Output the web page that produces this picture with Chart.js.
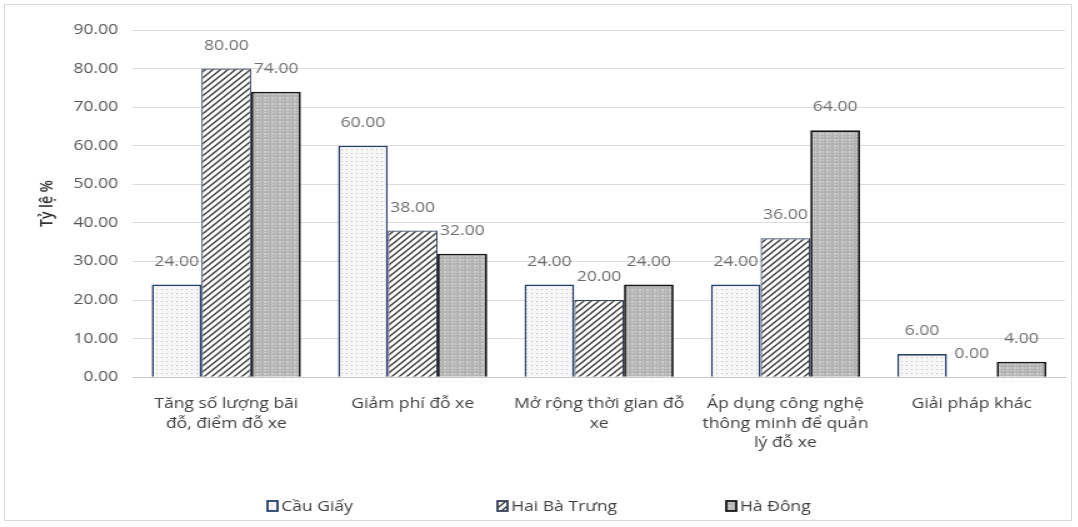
<!DOCTYPE html>
<html>
<head>
<meta charset="utf-8">
<script src="https://cdn.jsdelivr.net/npm/chart.js@4.4.1/dist/chart.umd.min.js"></script>
<style>
  html, body { margin: 0; padding: 0; background: #fff; overflow: hidden; }
  #frame { position: absolute; left: 4px; top: 4px; width: 1068px; height: 517px; border: 1px solid #d9d9d9; box-sizing: border-box; }
  #stage { position: absolute; left: 0; top: 0; width: 862px; height: 527px; transform: scaleX(1.25); transform-origin: 0 0; }
  #c { display: block; }
</style>
</head>
<body>
<div id="frame"></div>
<div id="stage"><canvas id="c" width="862" height="527"></canvas></div>
<script>
// Giải pháp cho bãi đỗ xe – tỷ lệ ý kiến theo quận
const categories = [
  ["Tăng số lượng bãi", "đỗ, điểm đỗ xe"],
  "Giảm phí đỗ xe",
  ["Mở rộng thời gian đỗ", "xe"],
  ["Áp dụng công nghệ", "thông minh để quản", "lý đỗ xe"],
  "Giải pháp khác"
];
const seriesNames = ["Cầu Giấy", "Hai Bà Trưng", "Hà Đông"];
const cauGiay = [24, 60, 24, 24, 6];
const haiBaTrung = [80, 38, 20, 36, 0];
const haDong = [74, 32, 24, 64, 4];
const yTicks = [0, 10, 20, 30, 40, 50, 60, 70, 80, 90];

// Fill patterns for the three series
function makePattern(kind) {
  const p = document.createElement('canvas');
  const ctx = p.getContext('2d');
  if (kind === 'dots') {
    p.width = 4; p.height = 4;
    ctx.fillStyle = '#f6f6f6'; ctx.fillRect(0, 0, 4, 4);
    ctx.fillStyle = '#bdbdbd';
    ctx.fillRect(1, 1, 1, 1);
  } else if (kind === 'stripes') {
    p.width = 6; p.height = 6;
    ctx.fillStyle = '#ffffff'; ctx.fillRect(0, 0, 6, 6);
    ctx.strokeStyle = '#333333'; ctx.lineWidth = 1.3;
    ctx.beginPath();
    ctx.moveTo(-1, 7); ctx.lineTo(7, -1);
    ctx.moveTo(-1, 1); ctx.lineTo(1, -1);
    ctx.moveTo(5, 7); ctx.lineTo(7, 5);
    ctx.stroke();
  } else {
    p.width = 6; p.height = 6;
    ctx.fillStyle = '#b3b3b3'; ctx.fillRect(0, 0, 6, 6);
    ctx.fillStyle = '#cfcfcf';
    ctx.fillRect(1, 1, 2, 2); ctx.fillRect(4, 4, 1, 1);
    ctx.fillRect(4, 1, 1, 2); ctx.fillRect(1, 4, 2, 1);
  }
  return document.getElementById('c').getContext('2d').createPattern(p, 'repeat');
}

const fills = [makePattern('dots'), makePattern('stripes'), makePattern('grid')];
const borders = ['#24406f', '#34405a', '#161616'];
const borderWidths = [1.6, 1.2, 1.8];
const FONT = "'Open Sans', 'DejaVu Sans', sans-serif";

// Value labels above each bar
const valueLabels = {
  id: 'valueLabels',
  afterDatasetsDraw(chart) {
    const ctx = chart.ctx;
    ctx.save();
    ctx.font = '14px ' + FONT;
    ctx.fillStyle = '#6e6e6e';
    ctx.textAlign = 'center';
    ctx.textBaseline = 'middle';
    chart.data.datasets.forEach((ds, i) => {
      chart.getDatasetMeta(i).data.forEach((bar, j) => {
        ctx.fillText(ds.data[j].toFixed(2), bar.x, bar.y - 23);
      });
    });
    ctx.restore();
  }
};

// Legend row along the bottom
const bottomLegend = {
  id: 'bottomLegend',
  afterDraw(chart) {
    const ctx = chart.ctx;
    const xs = [214, 398, 581];
    const y = 506;
    ctx.save();
    ctx.font = '14px ' + FONT;
    ctx.textBaseline = 'middle';
    chart.data.datasets.forEach((ds, i) => {
      const x = xs[i];
      ctx.fillStyle = ds.backgroundColor;
      ctx.fillRect(x, y - 5, 8, 10);
      ctx.strokeStyle = ds.borderColor;
      ctx.lineWidth = 1.8;
      ctx.strokeRect(x, y - 5, 8, 10);
      ctx.fillStyle = '#404040';
      ctx.fillText(ds.label, x + 11, y + 1);
    });
    ctx.restore();
  }
};

new Chart(document.getElementById('c'), {
  type: 'bar',
  data: {
    labels: categories,
    datasets: [cauGiay, haiBaTrung, haDong].map((d, i) => ({
      label: seriesNames[i],
      data: d,
      backgroundColor: fills[i],
      borderColor: borders[i],
      borderWidth: borderWidths[i],
      borderSkipped: 'bottom',
      categoryPercentage: 0.8,
      barPercentage: 1.0
    }))
  },
  options: {
    responsive: false,
    animation: false,
    devicePixelRatio: 1,
    layout: { padding: { left: 28, right: 10, top: 30, bottom: 65 } },
    plugins: { legend: { display: false }, tooltip: { enabled: false } },
    scales: {
      x: {
        grid: { display: false },
        border: { color: '#c8c8c8', width: 1 },
        ticks: { color: '#404040', font: { family: FONT, size: 14, lineHeight: 1.4 }, maxRotation: 0, autoSkip: false, padding: 9 }
      },
      y: {
        min: yTicks[0],
        max: yTicks[yTicks.length - 1],
        afterBuildTicks(scale) { scale.ticks = yTicks.map(v => ({ value: v })); },
        grid: { color: '#dcdcdc', drawTicks: false },
        border: { display: false },
        ticks: { color: '#555', font: { family: FONT, size: 14 }, padding: 12, callback: v => v.toFixed(2) },
        title: { display: true, text: 'Tỷ lệ %', color: '#333', font: { family: FONT, size: 14, weight: '600' }, padding: { top: 2, bottom: 0 } }
      }
    }
  },
  plugins: [valueLabels, bottomLegend]
});
</script>
</body>
</html>
